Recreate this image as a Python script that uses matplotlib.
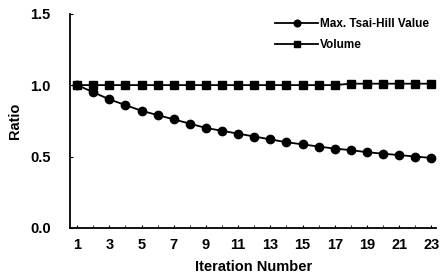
import matplotlib

matplotlib.use("Agg")
import matplotlib.pyplot as plt

plt.rcParams["font.family"] = ["Liberation Sans", "DejaVu Sans"]
plt.rcParams["font.weight"] = "bold"

iterations = list(range(1, 24))
tsai_hill = [1.00, 0.95, 0.90, 0.86, 0.82, 0.79, 0.76, 0.73, 0.70, 0.68, 0.66, 0.64,
             0.62, 0.60, 0.585, 0.57, 0.555, 0.545, 0.53, 0.52, 0.51, 0.50, 0.49]
volume = [1.00, 1.00, 1.00, 1.00, 1.00, 1.00, 1.00, 1.00, 1.00, 1.00, 1.00, 1.00,
          1.00, 1.00, 1.00, 1.00, 1.00, 1.01, 1.01, 1.01, 1.01, 1.01, 1.01]
xtick_labels = [1, 3, 5, 7, 9, 11, 13, 15, 17, 19, 21, 23]

fig = plt.figure(figsize=(4.41, 2.79), dpi=100)
ax = fig.add_axes([0.159, 0.183, 0.83, 0.768])

ax.plot(iterations, volume, color="black", marker="s", markersize=5.5, linewidth=1.3,
        label="Volume")
ax.plot(iterations, tsai_hill, color="black", marker="o", markersize=6, linewidth=1.3,
        label="Max. Tsai-Hill Value")

ax.set_xlim(0.56, 23.3)
ax.set_ylim(0, 1.5)
ax.set_yticks([0.0, 0.5, 1.0, 1.5])
ax.set_yticklabels(["0.0", "0.5", "1.0", "1.5"])
ax.set_xticks(iterations, minor=True)
ax.set_xticks(xtick_labels)
ax.set_xticklabels([str(v) for v in xtick_labels])

for s in ("top", "right"):
    ax.spines[s].set_visible(False)
for s in ("left", "bottom"):
    ax.spines[s].set_linewidth(1.3)

ax.tick_params(axis="y", direction="in", length=2, pad=14, labelsize=10.5)
ax.tick_params(axis="x", which="both", direction="in", length=2, pad=7, labelsize=10.5)

ax.set_xlabel("Iteration Number", fontsize=10.5, fontweight="bold", labelpad=6)
ax.set_ylabel("Ratio", fontsize=10.5, fontweight="bold", labelpad=6)

handles, labels = ax.get_legend_handles_labels()
ax.legend(handles[::-1], labels[::-1], loc="upper right", bbox_to_anchor=(1.01, 1.03),
          frameon=False, fontsize=8.5, handlelength=3.6, handletextpad=0.2,
          labelspacing=0.8, markerscale=0.8)

fig.savefig("out.png", dpi=100)
